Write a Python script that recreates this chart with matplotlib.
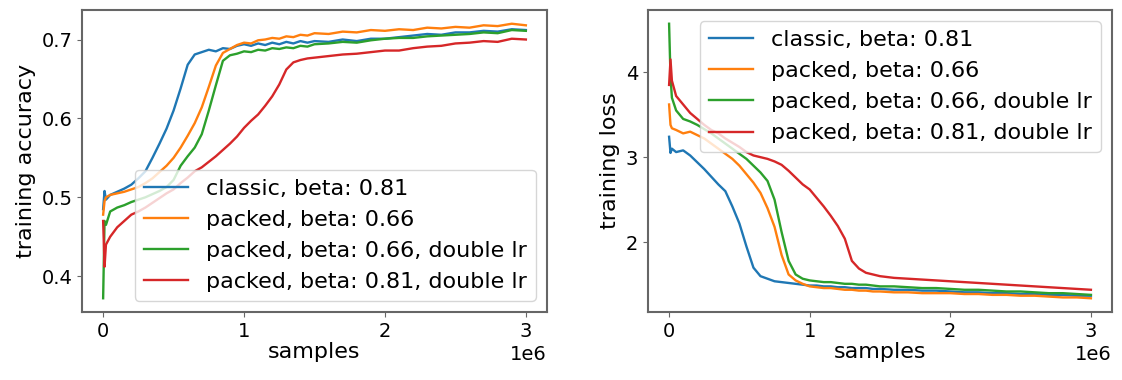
import matplotlib
matplotlib.use("Agg")
import matplotlib.pyplot as plt
import numpy as np

# samples, in millions
samples = [0, 0.01, 0.02, 0.05, 0.10, 0.15, 0.20, 0.25, 0.30, 0.35,
           0.40, 0.45, 0.50, 0.55, 0.60, 0.65, 0.70, 0.75, 0.80, 0.85,
           0.90, 0.95, 1.00, 1.05, 1.10, 1.15, 1.20, 1.25, 1.30, 1.35,
           1.40, 1.45, 1.50, 1.6, 1.7, 1.8, 1.9, 2.0, 2.1, 2.2,
           2.3, 2.4, 2.5, 2.6, 2.7, 2.8, 2.9, 3.0]

labels = ["classic, beta: 0.81",
          "packed, beta: 0.66",
          "packed, beta: 0.66, double lr",
          "packed, beta: 0.81, double lr"]

acc_classic = [0.485, 0.508, 0.497, 0.503, 0.507, 0.511, 0.516, 0.524, 0.533, 0.550,
               0.568, 0.587, 0.610, 0.638, 0.668, 0.681, 0.684, 0.687, 0.685, 0.689,
               0.688, 0.692, 0.694, 0.692, 0.695, 0.693, 0.696, 0.694, 0.697, 0.695,
               0.698, 0.696, 0.698, 0.697, 0.700, 0.698, 0.701, 0.701, 0.703, 0.705,
               0.707, 0.706, 0.709, 0.709, 0.711, 0.710, 0.713, 0.712]
acc_packed = [0.478, 0.495, 0.500, 0.503, 0.505, 0.507, 0.510, 0.513, 0.518, 0.524,
              0.532, 0.540, 0.550, 0.563, 0.578, 0.594, 0.614, 0.640, 0.667, 0.683,
              0.688, 0.693, 0.696, 0.695, 0.699, 0.700, 0.702, 0.701, 0.704, 0.703,
              0.706, 0.705, 0.708, 0.707, 0.710, 0.709, 0.712, 0.711, 0.713, 0.712,
              0.715, 0.714, 0.716, 0.715, 0.718, 0.717, 0.720, 0.718]
acc_packed_dlr = [0.372, 0.470, 0.465, 0.482, 0.487, 0.490, 0.494, 0.497, 0.500, 0.504,
                  0.508, 0.513, 0.522, 0.540, 0.552, 0.563, 0.580, 0.610, 0.642, 0.673,
                  0.680, 0.682, 0.685, 0.684, 0.687, 0.686, 0.689, 0.688, 0.690, 0.689,
                  0.692, 0.691, 0.694, 0.695, 0.697, 0.696, 0.699, 0.701, 0.702, 0.702,
                  0.704, 0.705, 0.706, 0.707, 0.709, 0.708, 0.712, 0.711]
acc_packed_b81_dlr = [0.470, 0.412, 0.440, 0.450, 0.462, 0.470, 0.478, 0.482, 0.487, 0.493,
                      0.499, 0.505, 0.510, 0.518, 0.525, 0.533, 0.538, 0.545, 0.552, 0.560,
                      0.568, 0.577, 0.588, 0.597, 0.605, 0.616, 0.628, 0.643, 0.662, 0.671,
                      0.674, 0.676, 0.677, 0.679, 0.681, 0.682, 0.684, 0.686, 0.686, 0.689,
                      0.691, 0.692, 0.695, 0.696, 0.698, 0.697, 0.701, 0.700]

loss_classic = [3.24, 3.05, 3.10, 3.06, 3.08, 3.02, 2.94, 2.86, 2.77, 2.68,
                2.60, 2.42, 2.22, 1.95, 1.70, 1.60, 1.57, 1.54, 1.53, 1.52,
                1.51, 1.50, 1.49, 1.49, 1.48, 1.48, 1.47, 1.47, 1.46, 1.46,
                1.46, 1.45, 1.45, 1.44, 1.44, 1.43, 1.43, 1.42, 1.41, 1.41,
                1.40, 1.40, 1.39, 1.39, 1.38, 1.38, 1.37, 1.37]
loss_packed = [3.62, 3.38, 3.34, 3.32, 3.28, 3.30, 3.26, 3.22, 3.16, 3.10,
               3.04, 2.98, 2.90, 2.80, 2.70, 2.58, 2.40, 2.18, 1.85, 1.62,
               1.55, 1.51, 1.48, 1.47, 1.46, 1.46, 1.45, 1.44, 1.44, 1.43,
               1.43, 1.42, 1.42, 1.41, 1.41, 1.40, 1.40, 1.40, 1.39, 1.39,
               1.38, 1.38, 1.37, 1.37, 1.36, 1.35, 1.35, 1.34]
loss_packed_dlr = [4.57, 3.95, 3.70, 3.55, 3.45, 3.42, 3.38, 3.33, 3.28, 3.22,
                   3.16, 3.10, 3.04, 2.98, 2.90, 2.82, 2.72, 2.50, 2.12, 1.78,
                   1.62, 1.57, 1.55, 1.54, 1.53, 1.53, 1.52, 1.51, 1.51, 1.50,
                   1.50, 1.49, 1.48, 1.48, 1.47, 1.46, 1.46, 1.45, 1.44, 1.44,
                   1.43, 1.42, 1.42, 1.41, 1.40, 1.40, 1.39, 1.38]
loss_packed_b81_dlr = [3.85, 4.15, 3.90, 3.72, 3.62, 3.52, 3.45, 3.38, 3.32, 3.28,
                       3.22, 3.17, 3.12, 3.06, 3.02, 3.00, 2.98, 2.95, 2.91, 2.84,
                       2.76, 2.68, 2.62, 2.52, 2.42, 2.31, 2.19, 2.04, 1.78, 1.69,
                       1.64, 1.62, 1.60, 1.58, 1.57, 1.56, 1.55, 1.54, 1.53, 1.52,
                       1.51, 1.50, 1.49, 1.48, 1.47, 1.46, 1.45, 1.44]

colors = ["#1f77b4", "#ff7f0e", "#2ca02c", "#d62728"]

plt.rcParams["font.size"] = 16
plt.rcParams["xtick.labelsize"] = 14
plt.rcParams["ytick.labelsize"] = 14

x = np.array(samples) * 1e6
fig = plt.figure(figsize=(11.22, 3.8), dpi=100)
W, H = 1122, 380
ax1 = fig.add_axes([82 / W, 1 - 312 / H, 465 / W, 302 / H])
ax2 = fig.add_axes([648 / W, 1 - 312 / H, 464 / W, 302 / H])

acc = [acc_classic, acc_packed, acc_packed_dlr, acc_packed_b81_dlr]
loss = [loss_classic, loss_packed, loss_packed_dlr, loss_packed_b81_dlr]

for ys, c, lab in zip(acc, colors, labels):
    ax1.plot(x, ys, color=c, label=lab, lw=1.7)
for ys, c, lab in zip(loss, colors, labels):
    ax2.plot(x, ys, color=c, label=lab, lw=1.7)

ax1.set_ylabel("training accuracy")
ax2.set_ylabel("training loss")
ax1.set_yticks([0.4, 0.5, 0.6, 0.7])
ax2.set_yticks([2, 3, 4])
for ax in (ax1, ax2):
    ax.set_xlabel("samples", labelpad=1)
    ax.set_xticks([0, 1e6, 2e6, 3e6])
    for s in ax.spines.values():
        s.set_color("#666666")
        s.set_linewidth(1.5)
    ax.tick_params(color="#666666")

ax1.legend(loc="lower right")
ax2.legend(loc="upper right")

fig.savefig("out.png", dpi=100)
